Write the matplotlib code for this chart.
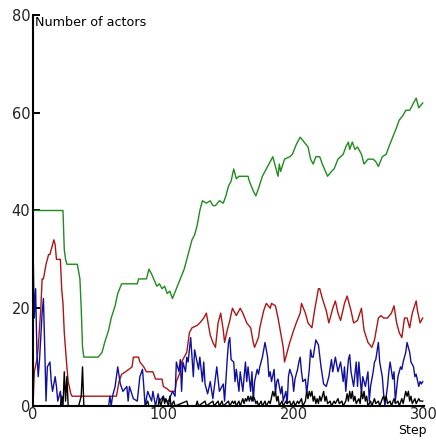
import matplotlib
matplotlib.use("Agg")
import matplotlib.pyplot as plt

# ---------------- data ----------------
green_steps = [0, 23, 24, 25, 26, 34, 36, 37, 38, 39, 50, 53, 55, 58, 60, 63, 65, 68, 80, 81, 87, 89, 91, 95, 97, 99,
               101, 103, 105, 107, 110, 113, 116, 118, 120, 122, 124, 126, 128, 130, 133, 136, 138, 140, 143, 146,
               148, 150, 152, 154, 156, 158, 162, 165, 166, 169, 171, 173, 176, 179, 181, 183, 184, 186, 188, 189,
               190, 193, 197, 199, 202, 205, 208, 211, 213, 215, 217, 220, 222, 226, 229, 231, 234, 238, 240, 242,
               243, 245, 247, 249, 252, 254, 257, 261, 263, 265, 268, 271, 273, 276, 279, 281, 284, 286, 289, 291,
               294, 296, 299]
green_vals = [40, 40, 32, 30, 29, 29, 26, 20, 12, 10, 10, 11, 13, 15.5, 18, 20.5, 23, 25, 25, 26, 26, 28, 27, 24.5,
              25, 24, 24.5, 23, 23.5, 22, 24, 26, 28, 30, 32, 34, 35, 37, 40, 42, 41.5, 42, 41, 41, 42, 41.5, 43, 45,
              46, 48.5, 46.5, 47, 47, 47, 46, 44, 43, 44.5, 47, 48.5, 49.5, 50.5, 51, 49, 47, 49.5, 48, 50.5, 51,
              51.5, 53.5, 55, 54, 53, 50.5, 49.5, 51, 51, 49.5, 47, 48, 48.5, 50.5, 51.5, 53, 54, 52.5, 54, 52.5,
              53, 51.5, 49.5, 50.5, 50.5, 50, 49, 51, 51.5, 53, 55, 57, 58.5, 59.5, 60.5, 60.5, 61.5, 63, 61, 62]

red_steps = [0, 1, 3, 4, 6, 7, 8, 10, 12, 13, 15, 16, 17, 18, 21, 22, 23, 24, 26, 27, 29, 30, 64, 66, 68, 71, 76, 77,
             81, 82, 85, 87, 92, 94, 99, 100, 103, 105, 109, 110, 113, 114, 118, 120, 122, 126, 128, 131, 133, 134,
             136, 138, 140, 142, 144, 146, 147, 149, 151, 153, 156, 159, 161, 164, 167, 169, 170, 173, 174, 177,
             179, 182, 183, 186, 188, 190, 192, 193, 195, 197, 200, 202, 205, 206, 209, 211, 214, 216, 219, 220,
             222, 225, 227, 230, 232, 234, 236, 239, 241, 244, 246, 249, 252, 254, 257, 260, 262, 265, 267, 269,
             272, 275, 277, 279, 281, 283, 285, 287, 289, 291, 294, 295, 297, 299]
red_vals = [0, 7, 9.5, 12, 20, 26, 26, 29, 31, 31, 33, 34, 33, 30, 30, 24, 21, 15, 8, 5, 2.5, 2, 2, 5, 6.5, 7, 8, 10,
            10, 9, 8, 7, 7, 5.5, 5.5, 4, 3.5, 3, 3, 5, 7, 9, 11, 15, 16, 16.5, 17, 18, 19, 17.5, 14.5, 13, 12, 17,
            19, 15.5, 13, 15.5, 17.5, 20, 18.5, 20, 19, 17, 16, 13, 12, 14, 16, 19.5, 21, 20, 21, 20.5, 18, 15, 12,
            9, 11, 13, 15.5, 17, 19, 21, 19, 17, 16, 19.5, 24, 24, 22, 19.5, 17, 20, 21.5, 19, 17.5, 21, 22.5,
            19.5, 17, 17.5, 20, 15.5, 13, 12, 13.5, 18, 18.5, 18, 18, 19, 20.5, 17, 15, 14, 18, 18, 16, 19, 21.5,
            19.5, 17, 18]

blue_steps = [0, 1, 2, 3, 4, 5, 7, 8, 9, 10, 11, 13, 14, 15, 17, 18, 19, 21, 22, 58, 59, 60, 61, 63, 65, 67, 69, 72,
              73, 74, 77, 80, 82, 84, 85, 86, 88, 91, 92, 94, 96, 97, 100, 101, 104, 107, 109, 110, 112, 113, 114,
              115, 117, 118, 119, 121, 122, 123, 124, 127, 128, 130, 131, 132, 134, 136, 138, 141, 143, 146, 147,
              149, 150, 151, 152, 154, 155, 156, 158, 159, 161, 162, 163, 164, 165, 167, 168, 169, 170, 172, 173,
              174, 176, 177, 178, 180, 181, 182, 183, 185, 186, 187, 188, 190, 191, 192, 194, 195, 196, 197, 199,
              200, 201, 203, 204, 205, 206, 207, 209, 210, 212, 213, 214, 215, 217, 219, 221, 223, 225, 227, 229,
              230, 232, 234, 236, 238, 239, 240, 242, 243, 244, 246, 248, 249, 250, 252, 253, 255, 257, 258, 259,
              261, 262, 263, 265, 266, 268, 269, 270, 272, 273, 274, 276, 277, 278, 279, 280, 282, 283, 284, 286,
              287, 289, 290, 292, 293, 294, 296, 297, 298, 299]
blue_vals = [33, 18, 24, 11, 6, 9.5, 19, 22, 12, 1, 8, 9, 5, 3, 6, 4, 1, 3, 0, 0, 2, 0, 2, 4, 8, 4.5, 3, 4, 1, 4,
             1.5, 1, 6, 7.5, 4, 0, 3, 1, 3, 0, 2.5, 1, 2, 1, 1, 3, 2, 9, 7, 9.5, 3, 9, 7, 10, 9, 14, 10, 6, 11.5,
             7.5, 10, 5, 9, 4.5, 2.5, 5, 1.5, 8, 3, 4.5, 1, 9.5, 13, 14, 9.5, 9, 5, 7.5, 3, 7, 3, 6, 9, 5, 8, 3,
             7, 1, 5, 7.5, 6.5, 8, 10, 11.5, 13, 10, 6, 7, 5, 7.5, 2.5, 5, 5.5, 2.5, 4, 1, 3, 0.5, 6, 7.5, 6, 3,
             5.5, 7.5, 9, 10, 7, 5, 5.5, 2.5, 7.5, 11.5, 10, 10, 13.5, 12.5, 8, 4.5, 4, 6, 9.5, 7, 10, 7, 9, 5, 8,
             3, 9.5, 10.5, 7, 4, 9, 4, 9, 2.5, 6, 4, 7, 1, 4, 7, 9, 9.5, 13, 9, 6, 2.5, 0, 4, 7, 9, 5.5, 7, 1,
             3.5, 6, 8, 7.5, 9, 11, 13, 11, 9, 8, 6, 6.5, 4, 5, 4.5, 5]

black_steps = [0, 21, 22, 23, 24, 25, 26, 27, 35, 36, 37, 38, 39, 86, 88, 89, 96, 97, 98, 100, 101, 102, 104, 105,
               106, 108, 109, 118, 119, 125, 126, 127, 132, 133, 138, 139, 142, 143, 145, 146, 150, 151, 153, 154,
               155, 156, 158, 159, 161, 162, 163, 164, 165, 166, 167, 168, 169, 170, 171, 172, 173, 175, 176, 178,
               179, 181, 182, 184, 185, 186, 187, 188, 189, 191, 192, 194, 195, 197, 198, 200, 201, 203, 204, 206,
               207, 209, 210, 211, 212, 213, 214, 215, 216, 217, 218, 219, 220, 221, 222, 223, 224, 225, 226, 228,
               229, 231, 232, 234, 235, 237, 238, 240, 241, 242, 243, 244, 245, 246, 247, 248, 250, 251, 252, 253,
               254, 255, 256, 257, 259, 260, 262, 263, 265, 266, 268, 269, 270, 271, 272, 274, 275, 277, 278, 280,
               281, 283, 284, 286, 287, 288, 289, 290, 291, 293, 294, 296, 297, 299]
black_vals = [0, 0, 2, 0, 7, 1, 6, 0, 0, 1, 2, 8, 0, 0, 1, 0, 0, 1.5, 0, 2, 0.5, 1.5, 0, 2, 0, 1, 0, 1, 0, 0, 1, 0,
              1, 0, 1, 0, 1, 0, 1, 0, 1, 0, 1, 0.5, 1, 0, 1, 0, 1.5, 0.5, 1.5, 1, 2, 1, 2, 1, 2, 1.5, 0.5, 1, 0, 1,
              0, 1, 0, 1, 0.5, 3, 2, 3, 1, 2, 0, 1, 0, 1, 0.5, 1, 0, 1, 0, 1, 0.5, 1.5, 0, 1, 3, 1.5, 3, 2, 3, 1,
              2, 0.5, 1.5, 0.5, 2, 1, 2, 3, 1, 2, 0.5, 1, 0, 1, 0.5, 1.5, 0.5, 1, 0, 1, 2.5, 1, 3, 1.5, 3, 1, 2,
              0.5, 1.5, 0.5, 3, 1.5, 3, 1, 2, 0, 1, 0, 1.5, 0.5, 1, 0, 1.5, 2, 1, 2, 0.5, 1, 0, 1.5, 0.5, 1, 0,
              1.5, 0.5, 3, 2, 3, 1, 2, 0.5, 1.5, 0.5, 1.5, 1, 1]

y_ticks = [0, 20, 40, 60, 80]
x_ticks = [0, 100, 200, 300]
y_title = "Number of actors"
x_title = "Step"

# ---------------- figure ----------------
W, H = 436, 440
fig = plt.figure(figsize=(W / 100, H / 100), dpi=100)
ax = fig.add_axes([33 / W, 34 / H, 391 / W, 391 / H])

lw = 1.0
ax.plot(green_steps, green_vals, color="#1e8c1e", lw=lw)
ax.plot(red_steps, red_vals, color="#b01414", lw=lw)
ax.plot(blue_steps, blue_vals, color="#1010a0", lw=lw)
ax.plot(black_steps, black_vals, color="black", lw=lw)

ax.set_xlim(0, 300)
ax.set_ylim(0, 80)
ax.set_xticks(x_ticks)
ax.set_yticks(y_ticks)
for s in ("top", "right"):
    ax.spines[s].set_visible(False)
for s in ("left", "bottom"):
    ax.spines[s].set_linewidth(1.5)
ax.tick_params(axis="y", direction="in", length=5, width=1.4, pad=2, labelsize=10.5)
ax.tick_params(axis="x", direction="in", length=0, width=1.4, pad=1, labelsize=10.5)
for lab in ax.get_xticklabels() + ax.get_yticklabels():
    lab.set_color("#222222")

fig.text(35 / W, 1 - 16 / H, y_title, ha="left", va="top", fontsize=9.2)
fig.text(412 / W, 1 - 430 / H, x_title, ha="center", va="center", fontsize=9)

fig.savefig("out.png", dpi=100)
